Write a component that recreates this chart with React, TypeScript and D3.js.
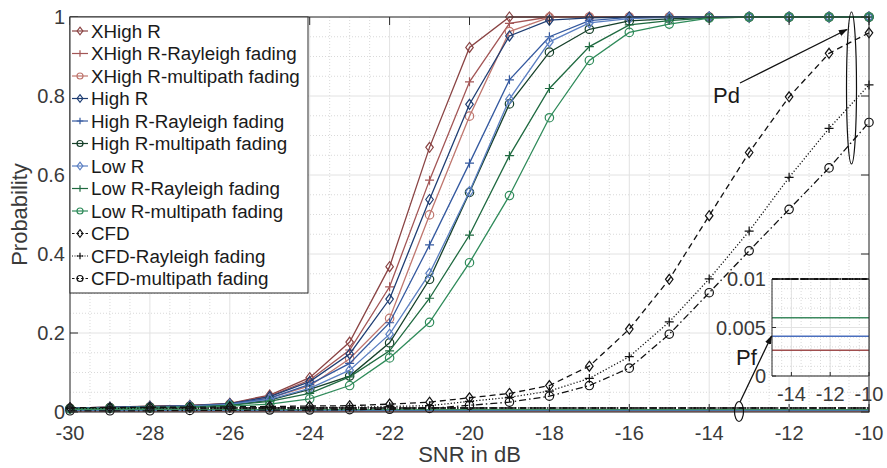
import React from "react";
import * as d3 from "d3";

const snr = [-30, -29, -28, -27, -26, -25, -24, -23, -22, -21, -20, -19, -18, -17, -16, -15, -14, -13, -12, -11, -10];

const xHighR = [0.010, 0.012, 0.015, 0.017, 0.022, 0.043, 0.087, 0.177, 0.368, 0.670, 0.923, 1.0, 1.0, 1.0, 1.0, 1.0, 1.0, 1.0, 1.0, 1.0, 1.0];
const xHighRRay = [0.010, 0.012, 0.014, 0.016, 0.021, 0.040, 0.081, 0.157, 0.317, 0.587, 0.836, 0.984, 1.0, 1.0, 1.0, 1.0, 1.0, 1.0, 1.0, 1.0, 1.0];
const xHighRMp = [0.010, 0.011, 0.013, 0.015, 0.020, 0.036, 0.066, 0.135, 0.237, 0.499, 0.749, 0.963, 0.999, 1.0, 1.0, 1.0, 1.0, 1.0, 1.0, 1.0, 1.0];
const highR = [0.010, 0.012, 0.014, 0.016, 0.021, 0.039, 0.077, 0.147, 0.286, 0.538, 0.779, 0.952, 0.992, 0.998, 1.0, 1.0, 1.0, 1.0, 1.0, 1.0, 1.0];
const highRRay = [0.010, 0.011, 0.013, 0.015, 0.020, 0.035, 0.070, 0.123, 0.226, 0.423, 0.630, 0.841, 0.950, 0.991, 0.999, 1.0, 1.0, 1.0, 1.0, 1.0, 1.0];
const highRMp = [0.009, 0.011, 0.012, 0.014, 0.018, 0.030, 0.057, 0.091, 0.175, 0.336, 0.556, 0.780, 0.911, 0.969, 0.990, 0.995, 0.999, 1.0, 1.0, 1.0, 1.0];
const lowR = [0.010, 0.011, 0.013, 0.015, 0.019, 0.032, 0.060, 0.106, 0.197, 0.351, 0.558, 0.792, 0.937, 0.985, 0.996, 0.999, 1.0, 1.0, 1.0, 1.0, 1.0];
const lowRRay = [0.009, 0.010, 0.012, 0.013, 0.017, 0.027, 0.047, 0.089, 0.155, 0.288, 0.448, 0.649, 0.819, 0.925, 0.980, 0.991, 0.998, 1.0, 1.0, 1.0, 1.0];
const lowRMp = [0.008, 0.009, 0.010, 0.012, 0.015, 0.020, 0.033, 0.067, 0.137, 0.227, 0.378, 0.548, 0.745, 0.890, 0.961, 0.982, 0.997, 1.0, 1.0, 1.0, 1.0];
const cfd = [0.011, 0.011, 0.012, 0.012, 0.013, 0.014, 0.015, 0.016, 0.020, 0.025, 0.036, 0.047, 0.067, 0.116, 0.210, 0.336, 0.497, 0.657, 0.798, 0.908, 0.960];
const cfdRay = [0.009, 0.009, 0.010, 0.010, 0.010, 0.011, 0.011, 0.012, 0.014, 0.016, 0.027, 0.037, 0.053, 0.085, 0.140, 0.228, 0.337, 0.458, 0.594, 0.718, 0.828];
const cfdMp = [0.003, 0.003, 0.003, 0.004, 0.004, 0.005, 0.005, 0.006, 0.007, 0.009, 0.017, 0.025, 0.040, 0.067, 0.111, 0.197, 0.302, 0.408, 0.513, 0.618, 0.733];

const legendLabels = [
  "XHigh R", "XHigh R-Rayleigh fading", "XHigh R-multipath fading",
  "High R", "High R-Rayleigh fading", "High R-multipath fading",
  "Low R", "Low R-Rayleigh fading", "Low R-multipath fading",
  "CFD", "CFD-Rayleigh fading", "CFD-multipath fading",
];
const seriesValues = [xHighR, xHighRRay, xHighRMp, highR, highRRay, highRMp, lowR, lowRRay, lowRMp, cfd, cfdRay, cfdMp];
const seriesColors = ["#8a4444", "#a35656", "#bf766e", "#1f3e73", "#34599f", "#16402a", "#5b7fc2", "#1f6a40", "#2f8b5a", "#111", "#111", "#111"];
const seriesMarkers = ["diamond", "plus", "circle", "diamond", "plus", "circle", "diamond", "plus", "circle", "diamond", "plus", "circle"];
const seriesDash = ["", "", "", "", "", "", "", "", "", "6,4", "1.2,2", "7,3,1.5,3"];

// false-alarm probability lines (constant over SNR), drawn in this order
const pfLabels = ["XHigh R Pf", "High R Pf", "Low R Pf", "CFD-Rayleigh Pf", "CFD-multipath Pf", "CFD Pf"];
const pfValues = [0.00265, 0.0041, 0.006, 0.01, 0.01, 0.01];
const pfColors = ["#a04e4e", "#4a6fbe", "#3d8a60", "#111", "#111", "#111"];
const pfDash = ["", "", "", "1.2,2", "7,3,1.5,3", "6,4"];

const xTicks = [-30, -28, -26, -24, -22, -20, -18, -16, -14, -12, -10];
const yTicks = [0, 0.2, 0.4, 0.6, 0.8, 1];
const yTickLabels = ["0", "0.2", "0.4", "0.6", "0.8", "1"];
const insetXTicks = [-14, -12, -10];
const insetYTicks = [0, 0.005, 0.01];
const insetYTickLabels = ["0", "0.005", "0.01"];

const FONT = "'Liberation Sans', Arial, Helvetica, sans-serif";
const TEXT = "#3a3a3a";
const AX = "#2b2b2b";

function Marker({ type, x, y, color, size = 4.5 }: { type: string; x: number; y: number; color: string; size?: number }) {
  if (type === "diamond") {
    const s = size + 0.5;
    return <path d={`M${x},${y - s}L${x + s * 0.75},${y}L${x},${y + s}L${x - s * 0.75},${y}Z`} fill="none" stroke={color} strokeWidth={1.2} />;
  }
  if (type === "plus") {
    return <path d={`M${x - size},${y}H${x + size}M${x},${y - size}V${y + size}`} fill="none" stroke={color} strokeWidth={1.2} />;
  }
  return <circle cx={x} cy={y} r={size - 0.3} fill="none" stroke={color} strokeWidth={1.2} />;
}

export default function App() {
  const W = 887, H = 468;
  const x = d3.scaleLinear().domain([-30, -10]).range([70, 869]);
  const y = d3.scaleLinear().domain([0, 1]).range([412, 17]);
  const [x0, x1] = x.range();
  const [y0, y1] = y.range();

  const minorX = d3.range(-30, -9.99, 0.5).filter((v) => Math.abs(v % 2) > 1e-6);
  const minorY = d3.range(0, 1.0001, 0.05).filter((v) => Math.abs((v / 0.2) - Math.round(v / 0.2)) > 1e-6);

  const line = d3.line<[number, number]>().x((d) => x(d[0])).y((d) => y(d[1]));

  // inset
  const ix = d3.scaleLinear().domain([-15, -10]).range([772, 869]);
  const iy = d3.scaleLinear().domain([0, 0.01]).range([376, 279]);
  const iMinorX = d3.range(-15, -9.99, 0.5);
  const iMinorY = d3.range(0, 0.01001, 0.001);

  const legX = 70, legY = 17, legW = 238, legH = 276, rowH = 22.5;

  return (
    <svg width={W} height={H} style={{ position: "absolute", left: 0, top: 0, background: "#fff" }} fontFamily={FONT}>
      <defs>
        <marker id="arr" viewBox="0 0 10 10" refX="9" refY="5" markerWidth="9" markerHeight="9" orient="auto-start-reverse" markerUnits="userSpaceOnUse">
          <path d="M0,1.5L10,5L0,8.5Z" fill="#111" />
        </marker>
        <clipPath id="plotclip">
          <rect x={x0 - 6} y={y1 - 6} width={x1 - x0 + 12} height={y0 - y1 + 12} />
        </clipPath>
      </defs>
      <rect x={0} y={0} width={W} height={H} fill="#fff" />
      {/* grid */}
      {minorX.map((v) => (
        <line key={"mx" + v} x1={x(v)} x2={x(v)} y1={y1} y2={y0} stroke="#cfcfcf" strokeWidth={0.8} strokeDasharray="1,2" />
      ))}
      {minorY.map((v) => (
        <line key={"my" + v} x1={x0} x2={x1} y1={y(v)} y2={y(v)} stroke="#cfcfcf" strokeWidth={0.8} strokeDasharray="1,2" />
      ))}
      {xTicks.map((v) => (
        <line key={"gx" + v} x1={x(v)} x2={x(v)} y1={y1} y2={y0} stroke="#e2e2e2" strokeWidth={1} />
      ))}
      {yTicks.map((v) => (
        <line key={"gy" + v} x1={x0} x2={x1} y1={y(v)} y2={y(v)} stroke="#e2e2e2" strokeWidth={1} />
      ))}

      <g clipPath="url(#plotclip)">
        {/* Pf lines */}
        {pfValues.map((v, i) => (
          <path key={"pf" + i} d={line([[-30, v], [-10, v]]) || ""} fill="none" stroke={pfColors[i]} strokeWidth={1.4} strokeDasharray={pfDash[i]} />
        ))}
        {/* Pd series */}
        {seriesValues.map((vals, si) => {
          const pts = snr.map((s, i) => [s, vals[i]] as [number, number]);
          return (
            <g key={"s" + si}>
              <path d={line(pts) || ""} fill="none" stroke={seriesColors[si]} strokeWidth={1.3} strokeDasharray={seriesDash[si]} />
              {pts.map((p, i) => (
                <Marker key={i} type={seriesMarkers[si]} x={x(p[0])} y={y(p[1])} color={seriesColors[si]} />
              ))}
            </g>
          );
        })}
      </g>

      {/* axes box */}
      <rect x={x0} y={y1} width={x1 - x0} height={y0 - y1} fill="none" stroke={AX} strokeWidth={1} />
      {xTicks.map((v) => (
        <g key={"tx" + v}>
          <line x1={x(v)} x2={x(v)} y1={y0} y2={y0 - 8} stroke={AX} />
          <line x1={x(v)} x2={x(v)} y1={y1} y2={y1 + 8} stroke={AX} />
          <text x={x(v)} y={y0 + 28} textAnchor="middle" fontSize={20} fill={TEXT}>{v}</text>
        </g>
      ))}
      {yTicks.map((v, i) => (
        <g key={"ty" + v}>
          <line x1={x0} x2={x0 + 8} y1={y(v)} y2={y(v)} stroke={AX} />
          <line x1={x1} x2={x1 - 8} y1={y(v)} y2={y(v)} stroke={AX} />
          <text x={x0 - 5} y={y(v) + 7} textAnchor="end" fontSize={20} fill={TEXT}>{yTickLabels[i]}</text>
        </g>
      ))}
      <text x={(x0 + x1) / 2} y={462} textAnchor="middle" fontSize={22} fill={TEXT}>SNR in dB</text>
      <text transform={`translate(27,${(y0 + y1) / 2}) rotate(-90)`} textAnchor="middle" fontSize={22} fill={TEXT}>Probability</text>

      {/* legend */}
      <rect x={legX} y={legY} width={legW} height={legH} fill="#fff" stroke={AX} strokeWidth={1} />
      {legendLabels.map((lab, i) => {
        const cy = legY + 14 + i * rowH;
        return (
          <g key={"lg" + i}>
            <line x1={legX + 2} x2={legX + 18} y1={cy} y2={cy} stroke={seriesColors[i]} strokeWidth={1.2} strokeDasharray={seriesDash[i] ? (i === 10 ? "1,1.5" : "2.5,2") : ""} />
            <Marker type={seriesMarkers[i]} x={legX + 10} y={cy} color={seriesColors[i]} size={3.3} />
            <text x={legX + 21} y={cy + 6.5} fontSize={18.8} fill="#1a1a1a">{lab}</text>
          </g>
        );
      })}

      {/* inset */}
      <rect x={ix.range()[0]} y={iy.range()[1]} width={ix.range()[1] - ix.range()[0]} height={iy.range()[0] - iy.range()[1]} fill="#fff" />
      {iMinorX.map((v) => (
        <line key={"imx" + v} x1={ix(v)} x2={ix(v)} y1={iy(0.01)} y2={iy(0)} stroke="#cfcfcf" strokeWidth={0.8} strokeDasharray="1,2" />
      ))}
      {iMinorY.map((v) => (
        <line key={"imy" + v} x1={ix(-15)} x2={ix(-10)} y1={iy(v)} y2={iy(v)} stroke="#cfcfcf" strokeWidth={0.8} strokeDasharray="1,2" />
      ))}
      {insetXTicks.map((v) => (
        <line key={"igx" + v} x1={ix(v)} x2={ix(v)} y1={iy(0.01)} y2={iy(0)} stroke="#e2e2e2" strokeWidth={1} />
      ))}
      {insetYTicks.map((v) => (
        <line key={"igy" + v} x1={ix(-15)} x2={ix(-10)} y1={iy(v)} y2={iy(v)} stroke="#e2e2e2" strokeWidth={1} />
      ))}
      {pfValues.map((v, i) => (
        <path key={"ipf" + i} d={`M${ix(-15)},${iy(v)}H${ix(-10)}`} fill="none" stroke={pfColors[i]} strokeWidth={1.4} strokeDasharray={pfDash[i]} />
      ))}
      <path d={`M${ix(-15)},${iy(0.01)}V${iy(0)}H${ix(-10)}V${iy(0.01)}`} fill="none" stroke={AX} strokeWidth={1} />
      <path d={`M${ix(-15)},${iy(0.01)}H${ix(-10)}`} fill="none" stroke="#111" strokeWidth={1.4} strokeDasharray="4,3" />
      {insetXTicks.map((v) => (
        <g key={"itx" + v}>
          <line x1={ix(v)} x2={ix(v)} y1={iy(0)} y2={iy(0) - 4} stroke={AX} />
          <text x={ix(v)} y={iy(0) + 25} textAnchor="middle" fontSize={20} fill={TEXT}>{v}</text>
        </g>
      ))}
      {insetYTicks.map((v, i) => (
        <g key={"ity" + v}>
          <line x1={ix(-15)} x2={ix(-15) + 4} y1={iy(v)} y2={iy(v)} stroke={AX} />
          <text x={ix(-15) - 6} y={iy(v) + 7} textAnchor="end" fontSize={20} fill={TEXT}>{insetYTickLabels[i]}</text>
        </g>
      ))}

      {/* annotations */}
      <ellipse cx={851.5} cy={88} rx={5} ry={76} fill="none" stroke="#111" strokeWidth={1.2} />
      <line x1={740} y1={83} x2={847} y2={29.5} stroke="#111" strokeWidth={1.3} markerEnd="url(#arr)" />
      <text x={713} y={103} fontSize={22} fill="#1a1a1a">Pd</text>
      <ellipse cx={739} cy={411.5} rx={4.5} ry={10} fill="none" stroke="#111" strokeWidth={1.2} />
      <line x1={740} y1={402} x2={771.5} y2={336} stroke="#111" strokeWidth={1.3} markerEnd="url(#arr)" />
      <text x={736} y={365} fontSize={22} fill="#1a1a1a">Pf</text>
    </svg>
  );
}
